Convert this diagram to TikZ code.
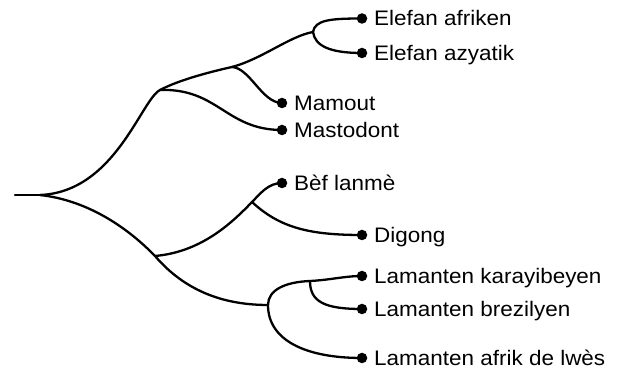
\documentclass[tikz,border=0pt]{standalone}
\usepackage{fontspec}
\setmainfont{Liberation Sans}[FakeStretch=1.07]
\begin{document}
\begin{tikzpicture}[x=1pt,y=-1pt,
  branch/.style={line width=2.3pt, line cap=round, line join=round},
  leaf/.style={circle, fill=black, inner sep=0pt, minimum size=10.5pt},
  lbl/.style={anchor=base west, inner sep=0pt, font=\fontsize{21}{24}\selectfont}]
\useasboundingbox (0,0) rectangle (625,371);

% internal nodes
\coordinate (r0) at (15,195);
\coordinate (root) at (40,195);
\coordinate (B) at (160,90);
\coordinate (A) at (232,67);
\coordinate (E) at (313,32);
\coordinate (C) at (155,256);
\coordinate (S) at (252,202);
\coordinate (M) at (268,305);
\coordinate (T) at (310,281);

% leaves
\node[leaf] (afr) at (362,18.5) {};
\node[leaf] (azy) at (362,53) {};
\node[leaf] (mam) at (282,103) {};
\node[leaf] (mas) at (282,130) {};
\node[leaf] (bef) at (282,183) {};
\node[leaf] (dig) at (362,235) {};
\node[leaf] (kar) at (362,276) {};
\node[leaf] (bre) at (362,309) {};
\node[leaf] (lwe) at (362,358) {};

% labels
\node[lbl] (lafr) at ([xshift=12pt,yshift=-7.5pt]afr.center) {Elefan afriken};
\node[lbl] (lazy) at ([xshift=12pt,yshift=-7.5pt]azy.center) {Elefan azyatik};
\node[lbl] (lmam) at ([xshift=12pt,yshift=-7.5pt]mam.center) {Mamout};
\node[lbl] (lmas) at ([xshift=12pt,yshift=-7.5pt]mas.center) {Mastodont};
\node[lbl] (lbef) at ([xshift=12pt,yshift=-7.5pt]bef.center) {Bèf lanmè};
\node[lbl] (ldig) at ([xshift=12pt,yshift=-7.5pt]dig.center) {Digong};
\node[lbl] (lkar) at ([xshift=12pt,yshift=-7.5pt]kar.center) {Lamanten karayibeyen};
\node[lbl] (lbre) at ([xshift=12pt,yshift=-7.5pt]bre.center) {Lamanten brezilyen};
\node[lbl] (llwe) at ([xshift=12pt,yshift=-7.5pt]lwe.center) {Lamanten afrik de lwès};

% branches
\draw[branch] (r0) -- (root);
\draw[branch] (root) .. controls (115,192) and (141,100) .. (B)
  .. controls (177,81) and (205,73) .. (A)
  .. controls (262,59) and (290,36) .. (E);
\draw[branch] (E) .. controls (315,20) and (330,18.5) .. (afr.center);
\draw[branch] (E) .. controls (315,46) and (330,53) .. (azy.center);
\draw[branch] (A) .. controls (250,68) and (262,103) .. (mam.center);
\draw[branch] (B) .. controls (218,88) and (226,130) .. (mas.center);

\draw[branch] (root) .. controls (85,200) and (125,225) .. (C)
  .. controls (180,285) and (215,305) .. (M);
\draw[branch] (C) .. controls (200,252) and (230,225) .. (S)
  .. controls (260,194) and (268,183) .. (bef.center);
\draw[branch] (S) .. controls (280,228) and (310,235) .. (dig.center);
\draw[branch] (M) .. controls (268,290) and (285,282) .. (T)
  .. controls (330,280) and (345,276) .. (kar.center);
\draw[branch] (T) .. controls (310,302) and (325,309) .. (bre.center);
\draw[branch] (M) .. controls (268,340) and (305,358) .. (lwe.center);
\end{tikzpicture}
\end{document}
